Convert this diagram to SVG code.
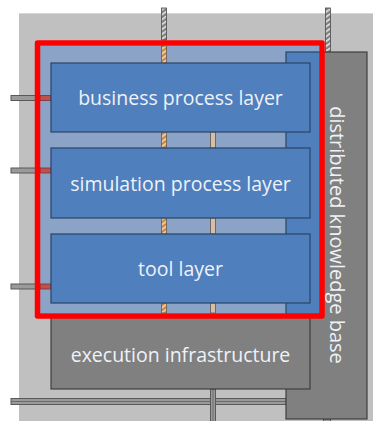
<svg xmlns="http://www.w3.org/2000/svg" width="373" height="421" viewBox="0 0 373 421">
  <defs>
    <pattern id="hatchGray" width="5" height="4" patternUnits="userSpaceOnUse" patternTransform="rotate(-35)">
      <rect width="5" height="4" fill="#7f7f7f"/>
      <rect width="5" height="1.6" fill="#e6e6e6"/>
    </pattern>
    <pattern id="hatchOrange" width="5" height="4" patternUnits="userSpaceOnUse" patternTransform="rotate(-35)">
      <rect width="5" height="4" fill="#c8884c"/>
      <rect width="5" height="1.6" fill="#f3d6b4"/>
    </pattern>
    <clipPath id="redInner">
      <rect x="40" y="46" width="279" height="267"/>
    </clipPath>
  </defs>
  <style>
    .layer { fill: #4f7fbd; stroke: #2b4565; stroke-width: 1.2; }
    .grey { fill: #808080; stroke: #3f3f3f; stroke-width: 1.2; }
    .lbl { font-family: "Open Sans", "DejaVu Sans", sans-serif; font-size: 19.5px; fill: #eef2f8; text-anchor: middle; }
    .kb { font-size: 20px; }
    .hg { fill: url(#hatchGray); stroke: #4a4a4a; stroke-width: 0.8; }
    .ho { fill: url(#hatchOrange); stroke: #6b5a4a; stroke-width: 0.8; }
    .tan { fill: #d9bea6; stroke: #5e564f; stroke-width: 0.8; }
    .gline { fill: #9a9a9a; stroke: #595959; stroke-width: 1; }
    .rline { fill: #c0504d; stroke: #7a3330; stroke-width: 0.8; }
  </style>

  <!-- background -->
  <rect x="19" y="13" width="360" height="420" fill="#c0c0c0"/>
  <line x1="19" y1="13.5" x2="373" y2="13.5" stroke="#d6d6d6" stroke-width="1"/>

  <g id="connectors">
    <rect class="hg" x="161.5" y="8" width="5" height="32"/>
    <rect class="hg" x="325.5" y="8" width="5" height="44"/>
    <rect class="gline" x="11" y="95.5" width="25" height="5"/>
    <rect class="gline" x="11" y="168" width="25" height="5"/>
    <rect class="gline" x="11" y="284" width="25" height="5"/>
    <rect class="gline" x="11" y="398.5" width="275" height="6"/>
    <line x1="11" y1="401.5" x2="286" y2="401.5" stroke="#5f5f5f" stroke-width="0.8"/>
    <rect class="gline" x="210.5" y="389" width="5" height="40"/>
    <line x1="213" y1="389" x2="213" y2="421" stroke="#5f5f5f" stroke-width="0.8"/>
    <rect class="gline" x="323.5" y="419" width="7" height="10"/>
  </g>

  <g id="knowledge-base">
    <rect class="grey" x="286" y="52" width="81" height="367"/>
  </g>

  <g id="execution-infrastructure">
    <rect class="grey" x="51" y="316" width="259" height="73"/>
    <text class="lbl" x="180.5" y="362">execution infrastructure</text>
  </g>

  <g id="highlight">
    <rect x="40" y="46" width="279" height="267" fill="#8aa3c6"/>
    <rect x="286" y="52" width="81" height="367" fill="#4f7fbd" stroke="#2b4565" stroke-width="1.2" clip-path="url(#redInner)"/>
  </g>

  <g id="inner-connectors">
    <rect class="ho" x="161.5" y="46" width="5" height="17"/>
    <rect class="ho" x="161.5" y="132" width="5" height="16"/>
    <rect class="ho" x="161.5" y="218" width="5" height="16"/>
    <rect class="ho" x="161.5" y="303" width="5" height="10"/>
    <rect class="tan" x="210.5" y="132" width="5" height="16"/>
    <rect class="tan" x="210.5" y="218" width="5" height="16"/>
    <rect class="tan" x="210.5" y="303" width="5" height="10"/>
    <rect class="rline" x="40" y="95.5" width="11" height="5"/>
    <rect class="rline" x="40" y="168" width="11" height="5"/>
    <rect class="rline" x="40" y="284" width="11" height="5"/>
  </g>

  <g id="business-process-layer">
    <rect class="layer" x="51" y="63" width="259" height="69"/>
    <text class="lbl" x="180.5" y="105">business process layer</text>
  </g>

  <g id="simulation-process-layer">
    <rect class="layer" x="51" y="148" width="259" height="70"/>
    <text class="lbl" x="180.5" y="191">simulation process layer</text>
  </g>

  <g id="tool-layer">
    <rect class="layer" x="51" y="234" width="259" height="69"/>
    <text class="lbl" x="180.5" y="276">tool layer</text>
  </g>

  <g id="kb-label">
    <text class="lbl kb" transform="translate(330,235) rotate(90)" x="0" y="0">distributed knowledge base</text>
  </g>

  <g id="red-frame">
    <rect x="37.5" y="43" width="284.5" height="273" fill="none" stroke="#ff0000" stroke-width="5.5" stroke-linejoin="round"/>
  </g>
</svg>
